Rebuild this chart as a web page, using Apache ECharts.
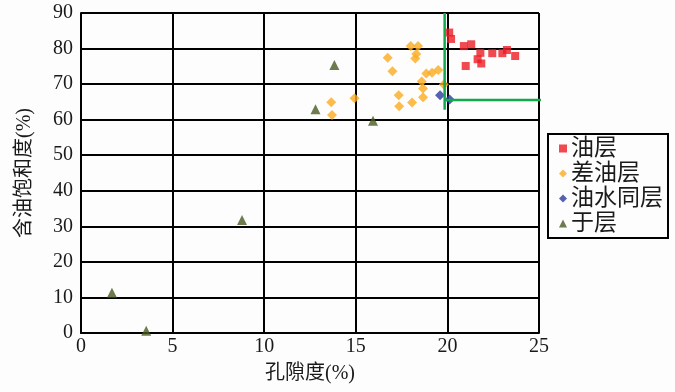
<!DOCTYPE html>
<html><head><meta charset="utf-8">
<script src="https://cdn.jsdelivr.net/npm/echarts@6/dist/echarts.min.js"></script>
<style>html,body{margin:0;padding:0;background:#fdfdfd}#c{width:675px;height:392px}</style>
</head><body><div id="c"></div>
<script>
// 油层 (oil layer)
const oilX = [20.1, 20.2, 20.9, 21.3, 21.8, 22.45, 23.0, 23.25, 23.7, 21.65, 21.85, 21.0];
const oilY = [84.5, 82.7, 80.7, 81.2, 78.8, 78.7, 78.7, 79.6, 77.9, 77.0, 75.8, 75.1];
// 差油层 (poor oil layer)
const poorX = [18.0, 18.4, 18.3, 18.25, 16.74, 17.0, 18.85, 19.16, 19.5, 18.6, 18.67, 18.67, 17.34, 17.37, 18.07, 19.8, 14.93, 13.66, 13.7];
const poorY = [80.7, 80.7, 78.5, 77.2, 77.4, 73.6, 73.0, 73.2, 74.0, 70.7, 68.8, 66.3, 66.9, 63.8, 64.8, 69.9, 66.0, 64.9, 61.3];
// 油水同层 (oil-water layer)
const owX = [19.6, 20.12];
const owY = [66.9, 65.7];
// 于层 (dry layer)
const dryX = [13.83, 12.8, 15.94, 8.79, 1.69, 3.56];
const dryY = [75.4, 62.9, 59.7, 31.8, 11.3, 0.6];
// green cut-off lines
const cutVX = [19.85, 19.85];
const cutVY = [90, 62.8];
const cutHX = [19.9, 25.8];
const cutHY = [65.5, 65.5];

const seriesNames = ['油层', '差油层', '油水同层', '于层'];
const xTicks = {min: 0, max: 25, interval: 5};
const yTicks = {min: 0, max: 90, interval: 10};

const zip = (a, b) => a.map((v, i) => [v, b[i]]);
const font = '"Liberation Serif", "Noto Sans CJK SC", serif';

const chart = echarts.init(document.getElementById('c'));
chart.setOption({
  backgroundColor: '#fdfdfd',
  animation: false,
  grid: {left: 81, right: 136, top: 13, bottom: 59},
  xAxis: {
    type: 'value', min: xTicks.min, max: xTicks.max, interval: xTicks.interval,
    name: '孔隙度(%)', nameLocation: 'middle', nameGap: 31,
    nameTextStyle: {fontFamily: font, fontSize: 20, color: '#1a1a1a'},
    axisLine: {show: true, lineStyle: {color: '#000', width: 2}},
    axisTick: {show: false},
    axisLabel: {fontFamily: font, fontSize: 20, color: '#1a1a1a', margin: 4},
    splitLine: {show: true, lineStyle: {color: '#000', width: 2}}
  },
  yAxis: {
    type: 'value', min: yTicks.min, max: yTicks.max, interval: yTicks.interval,
    name: '含油饱和度(%)', nameLocation: 'middle', nameGap: 46, nameRotate: 90,
    nameTextStyle: {fontFamily: font, fontSize: 20, color: '#1a1a1a'},
    axisLine: {show: true, lineStyle: {color: '#000', width: 2}},
    axisTick: {show: false},
    axisLabel: {fontFamily: font, fontSize: 20, color: '#1a1a1a', margin: 8},
    splitLine: {show: true, lineStyle: {color: '#000', width: 2}}
  },
  legend: {
    data: seriesNames,
    orient: 'vertical', left: 548, top: 134,
    borderColor: '#000', borderWidth: 2, borderRadius: 0,
    padding: [3, 5, 3, 11], itemWidth: 8, itemHeight: 8, itemGap: 2, itemStyle: {borderWidth: 0},
    textStyle: {fontFamily: font, fontSize: 23, color: '#1a1a1a', padding: [0, 0, 0, -1]}
  },
  series: [
    {name: seriesNames[0], type: 'scatter', symbol: 'rect', symbolSize: 8,
     itemStyle: {color: '#ed1c24'}, data: zip(oilX, oilY)},
    {name: seriesNames[1], type: 'scatter', symbol: 'diamond', symbolSize: 10,
     itemStyle: {color: '#fbab1f'}, data: zip(poorX, poorY)},
    {name: seriesNames[2], type: 'scatter', symbol: 'diamond', symbolSize: 10,
     itemStyle: {color: '#2a3a9e'}, data: zip(owX, owY)},
    {name: seriesNames[3], type: 'scatter', symbol: 'triangle', symbolSize: 10,
     itemStyle: {color: '#485a20'}, data: zip(dryX, dryY)},
    {type: 'line', silent: true, clip: false, showSymbol: false, symbol: 'none',
     lineStyle: {color: '#12a84b', width: 2.5}, data: zip(cutVX, cutVY), z: 5},
    {type: 'line', silent: true, clip: false, showSymbol: false, symbol: 'none',
     lineStyle: {color: '#12a84b', width: 2.5}, data: zip(cutHX, cutHY), z: 5}
  ]
});
</script></body></html>
